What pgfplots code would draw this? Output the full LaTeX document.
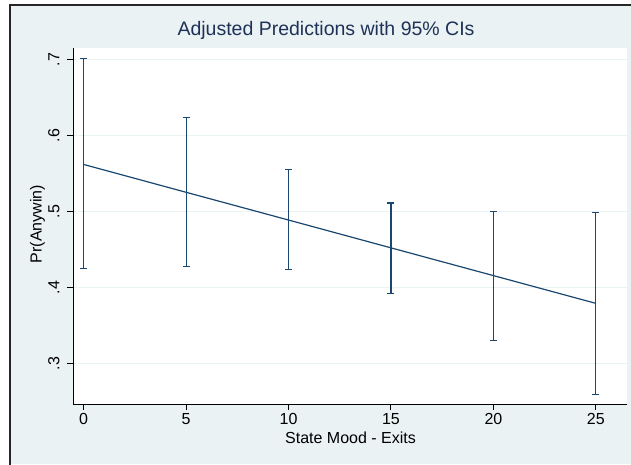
\documentclass[border=0pt]{standalone}
\usepackage{fontspec}
\setmainfont{Liberation Sans}
\usepackage{pgfplots}
\usepackage{pgfplotstable}
\pgfplotsset{compat=1.18}
\definecolor{bgc}{HTML}{EAF2F3}
\definecolor{navy}{HTML}{1A476F}
\definecolor{titlec}{HTML}{1E3259}
\pgfplotstableread{
x  y      lo     hi
0  0.5617 0.4247 0.7010
5  0.5251 0.4280 0.6240
10 0.4886 0.4238 0.5550
15 0.4520 0.3920 0.5110
20 0.4155 0.3300 0.5000
25 0.3790 0.2590 0.4990
}\data
\begin{document}
\begin{tikzpicture}[x=1pt,y=1pt]
\path[use as bounding box] (0,0) rectangle (631,-464);
\fill[white] (0,0) rectangle (631,-464);
\fill[bgc] (10,-5) rectangle (631,-464);
\draw[line width=2pt, black!85] (10,-465) -- (10,-5) -- (632,-5);
\begin{axis}[
  at={(73pt,-404pt)}, anchor=south west,
  scale only axis, width=554pt, height=356pt,
  xmin=-0.522, xmax=26.52, ymin=0.2466, ymax=0.7149,
  axis x line*=bottom, axis y line*=left,
  axis background/.style={fill=white},
  axis line style={black, line width=1pt},
  xtick={0,5,10,15,20,25},
  ytick={0.3,0.4,0.5,0.6,0.7},
  yticklabels={.3,.4,.5,.6,.7},
  tick align=outside, major tick length=6pt,
  tick style={black, line width=1pt},
  ymajorgrids, grid style={bgc, line width=1pt},
  /pgf/number format/assume math mode=true,
  every tick label/.append style={font=\fontsize{16}{16}\selectfont},
  yticklabel style={xshift=-4pt, rotate=90, anchor=south},
  title={Adjusted Predictions with 95\% CIs},
  title style={at={(axis description cs:0.4567,1.0169)}, anchor=base, text=titlec, font=\fontsize{19.5}{20}\selectfont},
  xlabel={State Mood - Exits},
  xlabel style={at={(axis description cs:0.5009,-0.1096)}, anchor=base, font=\fontsize{16}{16}\selectfont},
  ylabel={Pr(Anywin)},
  ylabel style={at={(axis description cs:-0.0641,0.5056)}, anchor=center, font=\fontsize{16}{16}\selectfont},
]
\addplot[navy, line width=1.2pt, mark=none,
  error bars/.cd, y dir=both, y explicit,
  error bar style={line width=1.1pt, color=navy},
  error mark options={rotate=90, mark size=3.5pt, line width=1.1pt, color=navy}]
  table[x=x, y=y, y error plus expr=\thisrow{hi}-\thisrow{y}, y error minus expr=\thisrow{y}-\thisrow{lo}] {\data};
\end{axis}
\end{tikzpicture}
\end{document}
